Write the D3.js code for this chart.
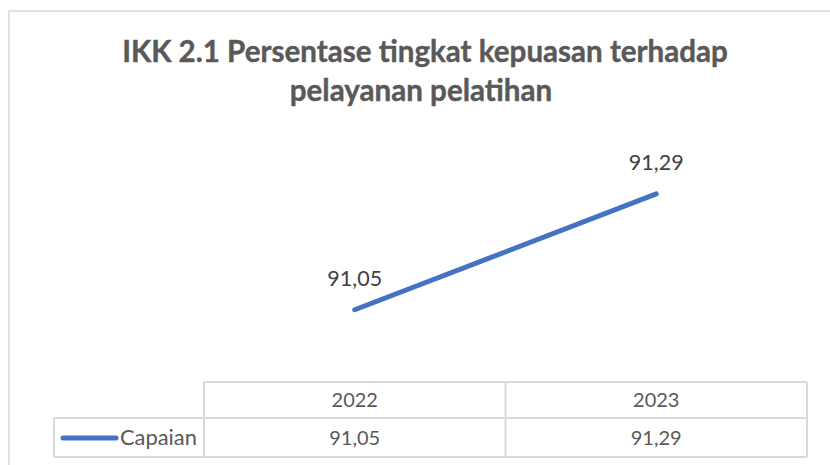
<!DOCTYPE html>
<html><head><meta charset="utf-8">
<script src="https://cdn.jsdelivr.net/npm/d3@7"></script>
<style>html,body{margin:0;padding:0;background:#fff;}svg{display:block;}</style>
</head><body>
<svg id="c" width="830" height="465"></svg>
<script>
const years = ["2022", "2023"];
const capaian = [91.05, 91.29];
const valueLabels = ["91,05", "91,29"];
const seriesName = "Capaian";
const titleLines = ["IKK 2.1 Persentase tingkat kepuasan terhadap", "pelayanan pelatihan"];

const svg = d3.select("#c");
const FONT = "Lato, 'Open Sans', sans-serif";
const border = "#d9d9d9";

// outer chart frame
svg.append("rect").attr("x", 9).attr("y", 11).attr("width", 900).attr("height", 600)
  .attr("fill", "#fff").attr("stroke", border).attr("stroke-width", 1.5);

function fitText(sel, target) {
  const w = sel.node().getComputedTextLength();
  const fs = parseFloat(sel.attr("font-size"));
  sel.attr("font-size", fs * target / w);
}

// title
const t1 = svg.append("text").attr("x", 425).attr("y", 62).attr("text-anchor", "middle")
  .attr("font-family", FONT).attr("font-weight", "bold").attr("font-size", 26).attr("fill", "#595959")
  .attr("stroke", "#595959").attr("stroke-width", 0.4)
  .text(titleLines[0]);
fitText(t1, 606);
const t2 = svg.append("text").attr("x", 421).attr("y", 101).attr("text-anchor", "middle")
  .attr("font-family", FONT).attr("font-weight", "bold").attr("font-size", 26).attr("fill", "#595959")
  .attr("stroke", "#595959").attr("stroke-width", 0.4)
  .text(titleLines[1]);
t2.attr("font-size", t1.attr("font-size"));

// scales
const x = d3.scaleBand().domain(years).range([204, 807]);
const cx = d => x(d) + x.bandwidth() / 2;
const y = d3.scaleLinear().domain([90.95, 91.35]).range([358, 165]);

const data = years.map((yr, i) => ({ yr, v: capaian[i], lab: valueLabels[i] }));

svg.append("path").datum(data)
  .attr("fill", "none").attr("stroke", "#4472C4").attr("stroke-width", 5)
  .attr("stroke-linecap", "round").attr("stroke-linejoin", "round")
  .attr("d", d3.line().x(d => cx(d.yr)).y(d => y(d.v)));

const lblFs = 21.5;
svg.selectAll("text.lbl").data(data).enter().append("text").attr("class", "lbl")
  .attr("x", d => cx(d.yr)).attr("y", d => y(d.v) - 24)
  .attr("text-anchor", "middle").attr("font-family", FONT).attr("font-size", lblFs)
  .attr("fill", "#404040").text(d => d.lab);

// data table
const rowTop = 382, rowMid = 418, rowBot = 457, legLeft = 54;
const g = svg.append("g").attr("stroke", border).attr("stroke-width", 2).attr("fill", "none");
g.append("line").attr("x1", 204).attr("x2", 807).attr("y1", rowTop).attr("y2", rowTop);
g.append("line").attr("x1", legLeft).attr("x2", 807).attr("y1", rowMid).attr("y2", rowMid);
g.append("line").attr("x1", legLeft).attr("x2", 807).attr("y1", rowBot).attr("y2", rowBot);
g.append("line").attr("x1", legLeft).attr("x2", legLeft).attr("y1", rowMid).attr("y2", rowBot);
[204, ...years.map(d => x(d) + x.bandwidth())].forEach(xx => {
  g.append("line").attr("x1", xx).attr("x2", xx).attr("y1", rowTop).attr("y2", rowBot);
});

const tblFs = 20;
svg.selectAll("text.hdr").data(years).enter().append("text").attr("class", "hdr")
  .attr("x", d => cx(d)).attr("y", (rowTop + rowMid) / 2 + 7)
  .attr("text-anchor", "middle").attr("font-family", FONT).attr("font-size", tblFs)
  .attr("fill", "#595959").text(d => d);
svg.selectAll("text.val").data(data).enter().append("text").attr("class", "val")
  .attr("x", d => cx(d.yr)).attr("y", (rowMid + rowBot) / 2 + 7)
  .attr("text-anchor", "middle").attr("font-family", FONT).attr("font-size", tblFs)
  .attr("fill", "#595959").text(d => d.lab);

svg.append("line").attr("x1", 63).attr("x2", 116).attr("y1", 438).attr("y2", 438)
  .attr("stroke", "#4472C4").attr("stroke-width", 5).attr("stroke-linecap", "round");
const cap = svg.append("text").attr("x", 120).attr("y", 445).attr("font-family", FONT).attr("font-size", tblFs)
  .attr("fill", "#595959").text(seriesName);
fitText(cap, 77);
</script>
</body></html>
